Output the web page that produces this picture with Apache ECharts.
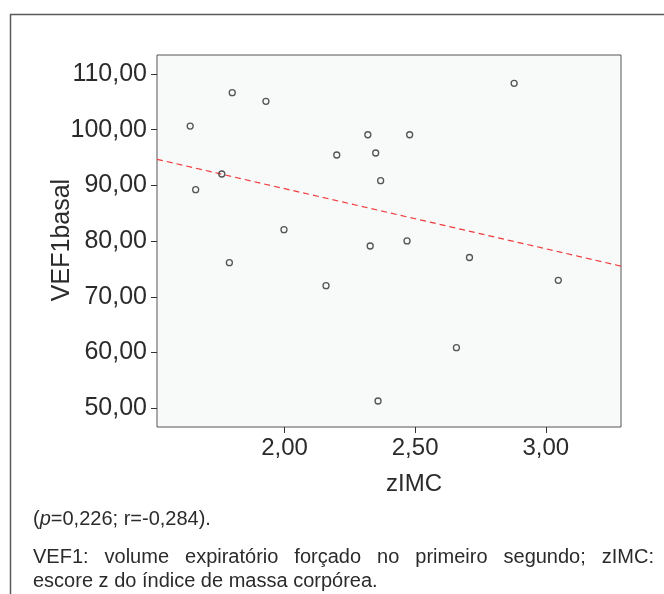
<!DOCTYPE html>
<html>
<head>
<meta charset="utf-8">
<script src="https://cdn.jsdelivr.net/npm/echarts@6/dist/echarts.min.js"></script>
<style>
  html, body { margin: 0; padding: 0; background: #fff; }
  #wrap { position: relative; width: 664px; height: 594px; overflow: hidden; }
  #chart { position: absolute; left: 0; top: 0; width: 664px; height: 594px; }
  .note { position: absolute; left: 33px; width: 621px; font-family: "Liberation Sans", Arial, sans-serif;
          font-size: 20px; color: #2b2b2b; line-height: 24px; margin: 0; }
  #n1 { top: 506px; }
  #n2 { top: 544px; text-align: justify; text-align-last: justify; }
  #n3 { top: 568px; }
</style>
</head>
<body>
<div id="wrap">
  <div id="chart"></div>
  <div class="note" id="n1">(<i>p</i>=0,226; r=-0,284).</div>
  <div class="note" id="n2">VEF1: volume expiratório forçado no primeiro segundo; zIMC:</div>
  <div class="note" id="n3">escore z do índice de massa corpórea.</div>
</div>
<script>
// ---- data ----
const zIMC = [1.800, 1.929, 1.639, 2.319, 2.479, 2.200, 2.349, 1.760, 2.368, 1.660,
              1.998, 2.328, 2.469, 1.789, 2.708, 2.159, 2.358, 2.658, 3.048, 2.879];
const VEF1basal = [106.64, 105.10, 100.66, 99.10, 99.10, 95.46, 95.82, 92.05, 90.85, 89.23,
                   82.05, 79.13, 80.03, 76.13, 77.06, 72.00, 51.31, 60.88, 72.97, 108.33];
const fitX = [1.512, 3.288];
const fitY = [94.69, 75.52];
const xTicks = [2.0, 2.5, 3.0];
const yTicks = [50, 60, 70, 80, 90, 100, 110];
const xRange = [1.512, 3.288];
const yRange = [46.64, 113.41];
const xTitle = 'zIMC';
const yTitle = 'VEF1basal';

const fmt = v => Number(v).toFixed(2).replace('.', ',');
const FONT = '"Liberation Sans", Arial, sans-serif';

const chart = echarts.init(document.getElementById('chart'), null, { renderer: 'canvas' });
chart.setOption({
  animation: false,
  backgroundColor: '#ffffff',
  grid: {
    left: 157, top: 55, width: 464, height: 372,
    show: true, backgroundColor: '#f8f9f9', borderColor: '#555555', borderWidth: 1
  },
  xAxis: {
    type: 'value', min: xRange[0], max: xRange[1],
    axisLine: { show: false },
    splitLine: { show: false },
    axisTick: { show: true, customValues: xTicks, length: 6, lineStyle: { color: '#333', width: 1 } },
    axisLabel: { customValues: xTicks, formatter: fmt, margin: 9, color: '#2b2b2b',
                 fontFamily: FONT, fontSize: 24 }
  },
  yAxis: {
    type: 'value', min: yRange[0], max: yRange[1],
    axisLine: { show: false },
    splitLine: { show: false },
    axisTick: { show: true, customValues: yTicks, length: 6, lineStyle: { color: '#333', width: 1 } },
    axisLabel: { customValues: yTicks, formatter: fmt, margin: 10, color: '#2b2b2b',
                 fontFamily: FONT, fontSize: 25 }
  },
  graphic: [
    { type: 'line', shape: { x1: 10, y1: 14.5, x2: 664, y2: 14.5 }, style: { stroke: '#5a5a5a', lineWidth: 1.5 } },
    { type: 'line', shape: { x1: 10.5, y1: 14, x2: 10.5, y2: 594 }, style: { stroke: '#5a5a5a', lineWidth: 1.5 } },
    { type: 'text', x: 414, y: 484, style: { text: xTitle, font: '24px ' + FONT, fill: '#2b2b2b',
      align: 'center', verticalAlign: 'middle' } },
    { type: 'text', x: 62, y: 240, rotation: Math.PI / 2, style: { text: yTitle, font: '25px ' + FONT,
      fill: '#2b2b2b', align: 'center', verticalAlign: 'middle' } }
  ],
  series: [
    {
      type: 'line', data: fitX.map((x, i) => [x, fitY[i]]), symbol: 'none', silent: true,
      lineStyle: { color: '#f03c3c', width: 1.2, type: [6, 4] }, z: 2
    },
    {
      type: 'scatter', data: zIMC.map((x, i) => [x, VEF1basal[i]]),
      symbol: 'circle', symbolSize: 6,
      itemStyle: { color: 'rgba(0,0,0,0)', borderColor: '#2a2a2a', borderWidth: 1.3 }, z: 3
    }
  ]
});
</script>
</body>
</html>
